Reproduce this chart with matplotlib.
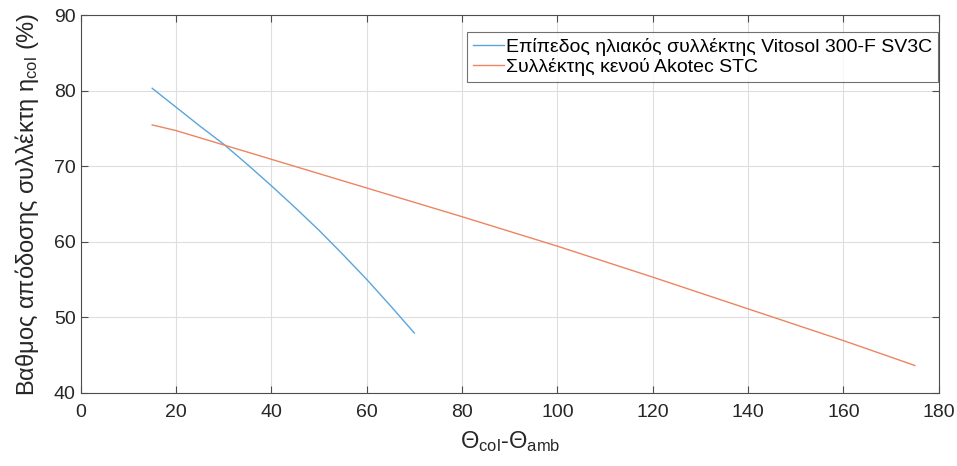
import numpy as np
import matplotlib
matplotlib.use('Agg')
import matplotlib.pyplot as plt

plt.rcParams['font.family'] = ['Liberation Sans', 'DejaVu Sans']
plt.rcParams['mathtext.fontset'] = 'custom'
plt.rcParams['mathtext.rm'] = 'Liberation Sans'
plt.rcParams['mathtext.it'] = 'Liberation Sans:italic'

# flat plate collector (Vitosol 300-F SV3C)
flat_dt = [15, 20, 25, 30, 35, 40, 45, 50, 55, 60, 65, 70]
flat_eta = [80.3, 77.8, 75.3, 72.9, 70.2, 67.4, 64.5, 61.5, 58.3, 55.0, 51.5, 47.9]

# evacuated tube collector (Akotec STC)
tube_dt = [15, 20, 40, 60, 80, 100, 120, 140, 160, 175]
tube_eta = [75.45, 74.7, 70.9, 67.1, 63.3, 59.4, 55.3, 51.1, 46.9, 43.6]

labels = ['Επίπεδος ηλιακός συλλέκτης Vitosol 300-F SV3C',
          'Συλλέκτης κενού Akotec STC']


def main():
    fig = plt.figure(figsize=(9.57, 4.66), dpi=100)
    ax = fig.add_axes([0.0843, 0.1573, 0.8966, 0.8105])

    ax.plot(flat_dt, flat_eta, color='#5aa5db', lw=1.0, label=labels[0])
    ax.plot(tube_dt, tube_eta, color='#ec8560', lw=1.0, label=labels[1])

    ax.set_xlim(0, 180)
    ax.set_ylim(40, 90)
    ax.set_xticks(np.arange(0, 181, 20))
    ax.set_yticks(np.arange(40, 91, 10))
    ax.grid(True, color='#dedede', lw=0.8)
    ax.set_axisbelow(True)

    edge = '#4d4d4d'
    for s in ax.spines.values():
        s.set_color(edge)
        s.set_linewidth(0.8)
    ax.tick_params(direction='in', length=5, width=0.8, color=edge,
                   labelsize=14, labelcolor='#262626', top=True, right=True,
                   labeltop=False, labelright=False)
    ax.tick_params(axis='x', pad=8)

    ax.set_ylabel('Βαθμος απόδοσης συλλέκτη η$_\\mathregular{col}$ (%)',
                  fontsize=17, color='#262626', labelpad=9)
    ax.set_xlabel('Θ$_\\mathregular{col}$-Θ$_\\mathregular{amb}$',
                  fontsize=17, color='#262626', labelpad=6)

    leg = ax.legend(loc='upper right', bbox_to_anchor=(0.9995, 0.955),
                    fontsize=14, frameon=True, fancybox=False,
                    edgecolor=edge, handlelength=1.6, handletextpad=0.1,
                    borderaxespad=0.0, borderpad=0.3, labelspacing=0.1)
    leg.get_frame().set_linewidth(0.8)

    fig.savefig('out.png', dpi=100)


if __name__ == '__main__':
    main()
